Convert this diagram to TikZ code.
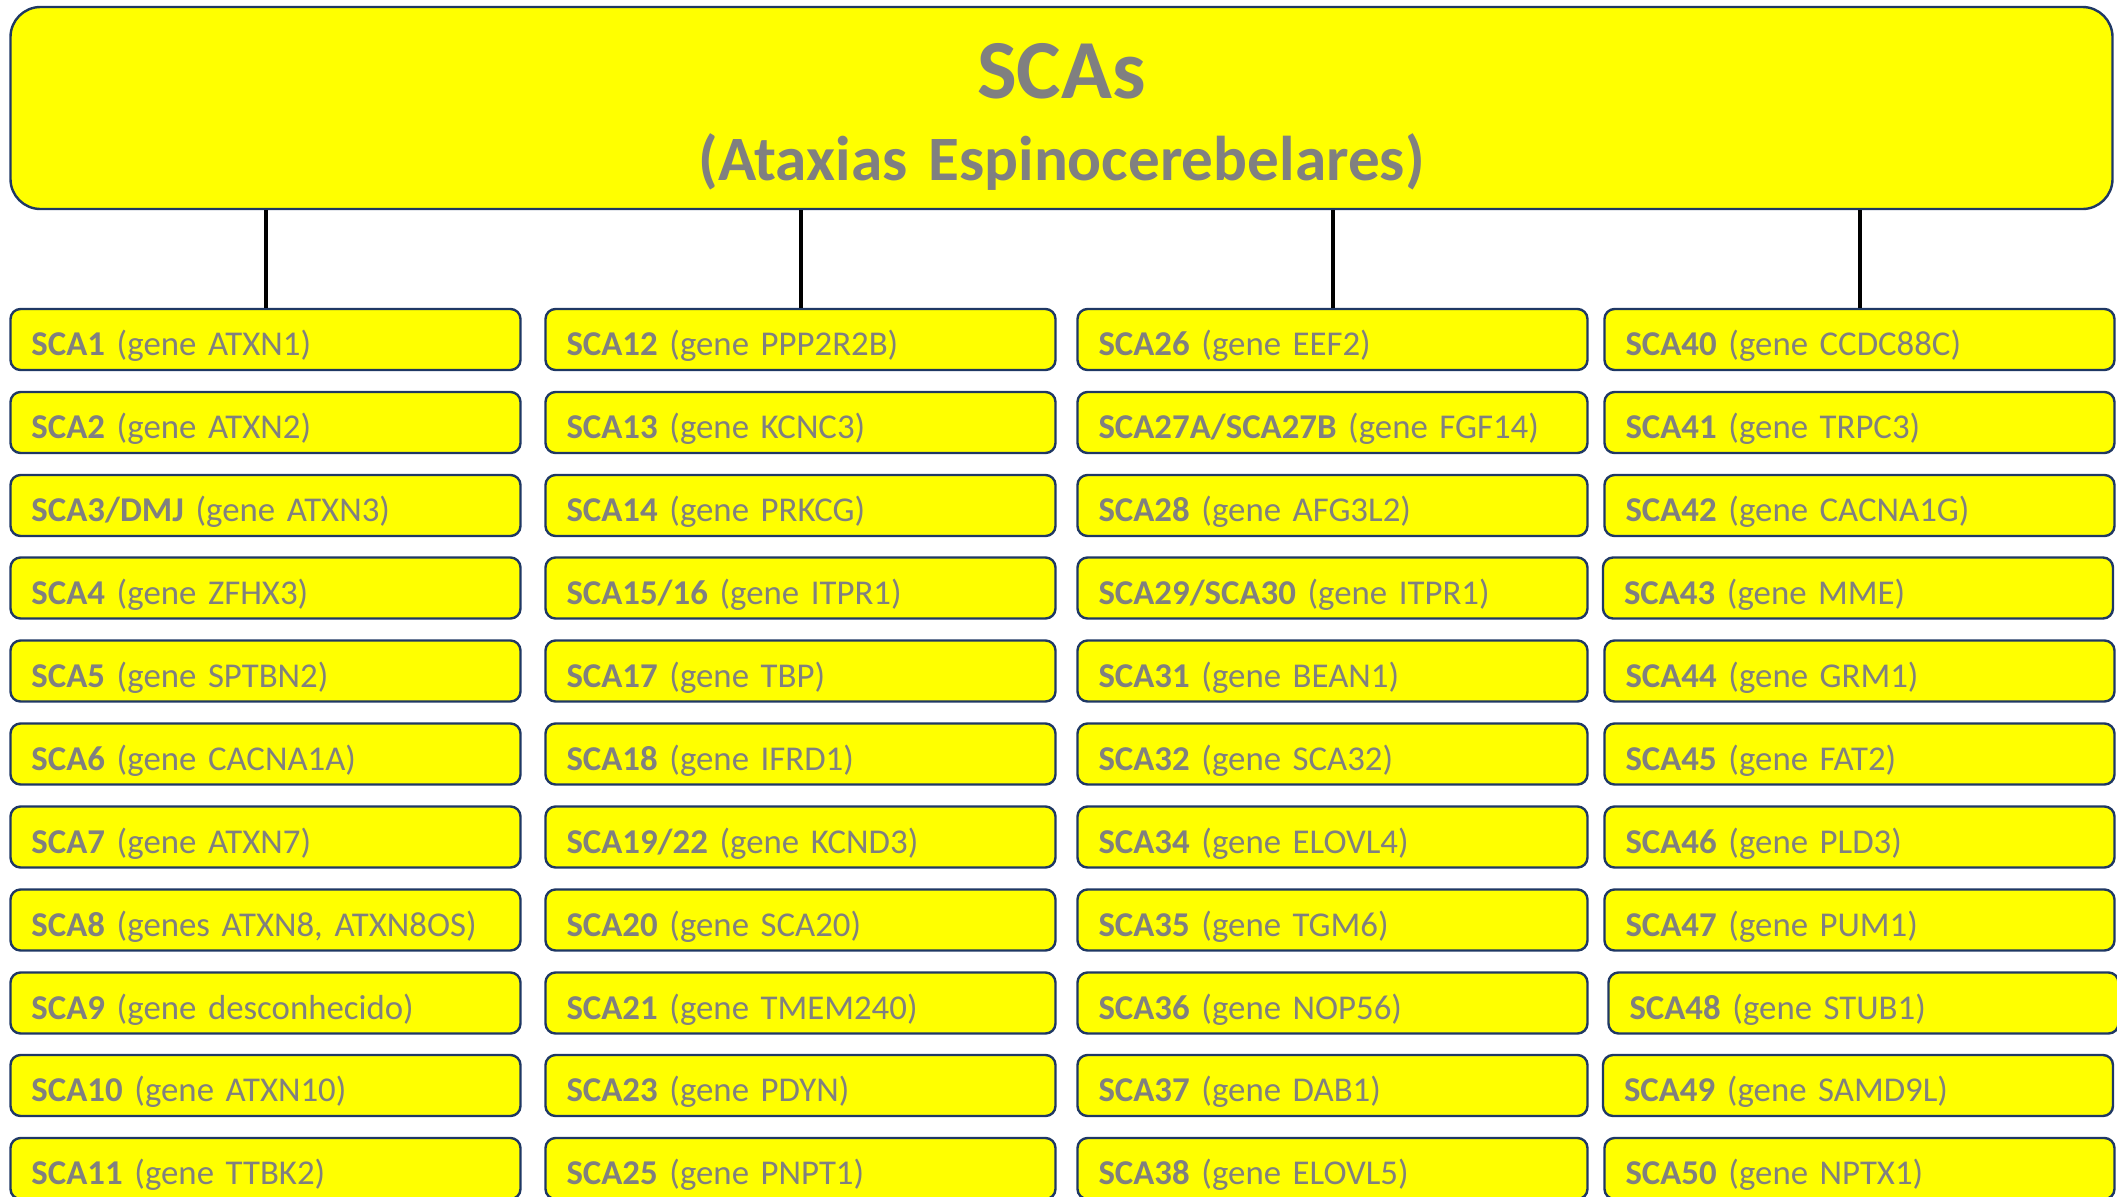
\documentclass[tikz,border=0pt]{standalone}
\usepackage{fontspec}
\setmainfont{Carlito}[WordSpace=0.75]
\usepackage{tikz}
\definecolor{boxedge}{RGB}{31,56,100}
\definecolor{boxfill}{RGB}{255,255,0}
\definecolor{txtgray}{RGB}{128,128,128}
\newcommand{\sca}[2]{\mbox{\textbf{#1} (#2)}}

\begin{document}
\begin{tikzpicture}
                \tikzset{x=0.5pt, y=-0.5pt}
                \tikzstyle{gene}=[rectangle, rounded corners=5pt, draw=boxedge, line width=1.2pt, fill=boxfill,
                                  text=txtgray, font=\fontsize{17.4}{20}\selectfont, minimum height=30.5pt,
                                  text width=234pt, inner xsep=10.5pt, inner ysep=0pt, align=left,
                                  text height=20pt, text depth=3.8pt]
                \tikzstyle{root}=[gene, rounded corners=15pt, text width=1030pt, minimum height=101pt,
                                  align=center, font=\bfseries\fontsize{31.6}{41}\selectfont,
                                  text height=30pt, text depth=40pt]
                \tikzstyle{link}=[line width=2pt, black]

                \useasboundingbox (0, 0) rectangle (2117, 1196);

                \draw (1061.5, 108.0) node[root] (scas) {{\fontsize{42}{41}\selectfont SCAs}\\(Ataxias Espinocerebelares)};

                \draw (265.5, 339.5)  node[gene] (sca1)  {\sca{SCA1}{gene ATXN1}};
                \draw (265.5, 422.5)  node[gene] (sca2)  {\sca{SCA2}{gene ATXN2}};
                \draw (265.5, 505.5)  node[gene] (sca3)  {\sca{SCA3/DMJ}{gene ATXN3}};
                \draw (265.5, 588.0)  node[gene] (sca4)  {\sca{SCA4}{gene ZFHX3}};
                \draw (265.5, 671.0)  node[gene] (sca5)  {\sca{SCA5}{gene SPTBN2}};
                \draw (265.5, 754.0)  node[gene] (sca6)  {\sca{SCA6}{gene CACNA1A}};
                \draw (265.5, 837.0)  node[gene] (sca7)  {\sca{SCA7}{gene ATXN7}};
                \draw (265.5, 920.0)  node[gene] (sca8)  {\sca{SCA8}{genes ATXN8, ATXN8OS}};
                \draw (265.5, 1003.0) node[gene] (sca9)  {\sca{SCA9}{gene desconhecido}};
                \draw (265.5, 1085.5) node[gene] (sca10) {\sca{SCA10}{gene ATXN10}};
                \draw (265.5, 1168.5) node[gene] (sca11) {\sca{SCA11}{gene TTBK2}};

                \draw (800.5, 339.5)  node[gene] (sca12) {\sca{SCA12}{gene PPP2R2B}};
                \draw (800.5, 422.5)  node[gene] (sca13) {\sca{SCA13}{gene KCNC3}};
                \draw (800.5, 505.5)  node[gene] (sca14) {\sca{SCA14}{gene PRKCG}};
                \draw (800.5, 588.0)  node[gene] (sca15) {\sca{SCA15/16}{gene ITPR1}};
                \draw (800.5, 671.0)  node[gene] (sca17) {\sca{SCA17}{gene TBP}};
                \draw (800.5, 754.0)  node[gene] (sca18) {\sca{SCA18}{gene IFRD1}};
                \draw (800.5, 837.0)  node[gene] (sca19) {\sca{SCA19/22}{gene KCND3}};
                \draw (800.5, 920.0)  node[gene] (sca20) {\sca{SCA20}{gene SCA20}};
                \draw (800.5, 1003.0) node[gene] (sca21) {\sca{SCA21}{gene TMEM240}};
                \draw (800.5, 1085.5) node[gene] (sca23) {\sca{SCA23}{gene PDYN}};
                \draw (800.5, 1168.5) node[gene] (sca25) {\sca{SCA25}{gene PNPT1}};

                \draw (1332.5, 339.5)  node[gene] (sca26) {\sca{SCA26}{gene EEF2}};
                \draw (1332.5, 422.5)  node[gene] (sca27) {\sca{SCA27A/SCA27B}{gene FGF14}};
                \draw (1332.5, 505.5)  node[gene] (sca28) {\sca{SCA28}{gene AFG3L2}};
                \draw (1332.5, 588.0)  node[gene] (sca29) {\sca{SCA29/SCA30}{gene ITPR1}};
                \draw (1332.5, 671.0)  node[gene] (sca31) {\sca{SCA31}{gene BEAN1}};
                \draw (1332.5, 754.0)  node[gene] (sca32) {\sca{SCA32}{gene SCA32}};
                \draw (1332.5, 837.0)  node[gene] (sca34) {\sca{SCA34}{gene ELOVL4}};
                \draw (1332.5, 920.0)  node[gene] (sca35) {\sca{SCA35}{gene TGM6}};
                \draw (1332.5, 1003.0) node[gene] (sca36) {\sca{SCA36}{gene NOP56}};
                \draw (1332.5, 1085.5) node[gene] (sca37) {\sca{SCA37}{gene DAB1}};
                \draw (1332.5, 1168.5) node[gene] (sca38) {\sca{SCA38}{gene ELOVL5}};

                \draw (1859.5, 339.5)  node[gene] (sca40) {\sca{SCA40}{gene CCDC88C}};
                \draw (1859.5, 422.5)  node[gene] (sca41) {\sca{SCA41}{gene TRPC3}};
                \draw (1859.5, 505.5)  node[gene] (sca42) {\sca{SCA42}{gene CACNA1G}};
                \draw (1858.0, 588.0)  node[gene] (sca43) {\sca{SCA43}{gene MME}};
                \draw (1859.5, 671.0)  node[gene] (sca44) {\sca{SCA44}{gene GRM1}};
                \draw (1859.5, 754.0)  node[gene] (sca45) {\sca{SCA45}{gene FAT2}};
                \draw (1859.5, 837.0)  node[gene] (sca46) {\sca{SCA46}{gene PLD3}};
                \draw (1859.5, 920.0)  node[gene] (sca47) {\sca{SCA47}{gene PUM1}};
                \draw (1863.5, 1003.0) node[gene] (sca48) {\sca{SCA48}{gene STUB1}};
                \draw (1858.0, 1085.5) node[gene] (sca49) {\sca{SCA49}{gene SAMD9L}};
                \draw (1859.5, 1168.5) node[gene] (sca50) {\sca{SCA50}{gene NPTX1}};

                \draw [link] (scas.south -| sca1.north)  -- (sca1.north);
                \draw [link] (scas.south -| sca12.north) -- (sca12.north);
                \draw [link] (scas.south -| sca26.north) -- (sca26.north);
                \draw [link] (scas.south -| sca40.north) -- (sca40.north);
            \end{tikzpicture}
\end{document}
